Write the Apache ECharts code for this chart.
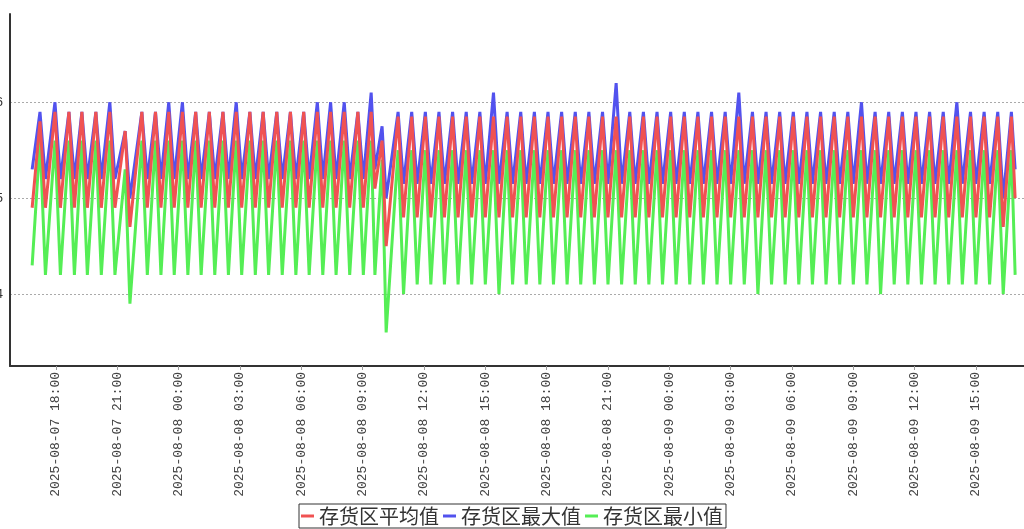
<!DOCTYPE html>
<html>
<head>
<meta charset="utf-8">
<script src="https://cdn.jsdelivr.net/npm/echarts@6/dist/echarts.min.js"></script>
<style>html,body{margin:0;padding:0;background:#fff;}#chart{width:1024px;height:529px;}</style>
</head>
<body>
<div id="chart"></div>
<script>
// ---- data (times in minutes after 2025-08-07 00:00) ----
const seriesNames = ['存货区平均值', '存货区最大值', '存货区最小值'];
const tickLabels = ['2025-08-07 18:00','2025-08-07 21:00','2025-08-08 00:00','2025-08-08 03:00','2025-08-08 06:00','2025-08-08 09:00','2025-08-08 12:00','2025-08-08 15:00','2025-08-08 18:00','2025-08-08 21:00','2025-08-09 00:00','2025-08-09 03:00','2025-08-09 06:00','2025-08-09 09:00','2025-08-09 12:00','2025-08-09 15:00'];
const yTickValues = [4, 5, 6];

const troughMinutes = [1010,1049,1093,1134,1172,1213,1253,1297,1348,1388,1427,1467,1506,1546,1586,1625,1665,1704,1744,1784,1823,1863,1902,1942,1982,2016,2049,
2100,2140,2180,2220,2260,2300,2340,2380,2420,2460,2500,2540,2580,2620,2660,2700,2740,2780,2820,2860,2900,2940,2980,3020,3060,3100,3140,3180,3220,3260,3300,3340,3380,3420,3460,3500,3540,3580,3620,3660,3700,3740,3780,3820,3860];
const peakMinutes = [1033,1077,1118,1156,1197,1238,1283,1332,1372,1411,1451,1490,1530,1570,1609,1649,1688,1728,1768,1807,1847,1886,1926,1966,2005,2037,2084,
2124,2164,2204,2244,2284,2324,2364,2404,2444,2484,2524,2564,2604,2644,2684,2724,2764,2804,2844,2884,2924,2964,3004,3044,3084,3124,3164,3204,3244,3284,3324,3364,3404,3444,3484,3524,3564,3604,3644,3684,3724,3764,3804,3844,3884];
const endMinute = 3895;

const avgTroughs = [4.9,4.9,4.9,4.9,4.9,4.9,4.9,4.7,4.9,4.9,4.9,4.9,4.9,4.9,4.9,4.9,4.9,4.9,4.9,4.9,4.9,4.9,4.9,4.9,4.9,5.1,4.5,
4.8,4.8,4.8,4.8,4.8,4.8,4.8,4.8,4.8,4.8,4.8,4.8,4.8,4.8,4.8,4.8,4.8,4.8,4.8,4.8,4.8,4.8,4.8,4.8,4.8,4.8,4.8,4.8,4.8,4.8,4.8,4.8,4.8,4.8,4.8,4.8,4.8,4.8,4.8,4.8,4.8,4.8,4.8,4.8,4.7,4.8];
const avgPeaks = [5.8,5.9,5.9,5.9,5.9,5.9,5.7,5.9,5.9,5.9,5.9,5.9,5.9,5.9,5.9,5.9,5.9,5.9,5.9,5.9,5.9,5.9,5.9,5.9,5.9,5.6,5.85,
5.85,5.85,5.85,5.85,5.85,5.85,5.85,5.85,5.85,5.85,5.85,5.85,5.85,5.85,5.85,5.85,5.85,5.85,5.85,5.85,5.85,5.85,5.85,5.85,5.85,5.85,5.85,5.85,5.85,5.85,5.85,5.85,5.85,5.85,5.85,5.85,5.85,5.85,5.85,5.85,5.85,5.85,5.85,5.85,5.85,5.85];
const avgEnd = 5.0;

const maxTroughs = [5.3,5.2,5.2,5.2,5.2,5.2,5.2,5.0,5.2,5.2,5.2,5.2,5.2,5.2,5.2,5.2,5.2,5.2,5.2,5.2,5.2,5.2,5.2,5.2,5.2,5.3,5.0,
5.15,5.15,5.15,5.15,5.15,5.15,5.15,5.15,5.15,5.15,5.15,5.15,5.15,5.15,5.15,5.15,5.15,5.15,5.15,5.15,5.15,5.15,5.15,5.15,5.15,5.15,5.15,5.15,5.15,5.15,5.15,5.15,5.15,5.15,5.15,5.15,5.15,5.15,5.15,5.15,5.15,5.15,5.15,5.15,5.0,5.15];
const maxPeaks = [5.9,6.0,5.9,5.9,5.9,6.0,5.7,5.9,5.9,6.0,6.0,5.9,5.9,5.9,6.0,5.9,5.9,5.9,5.9,5.9,6.0,6.0,6.0,5.9,6.1,5.75,5.9,
5.9,5.9,5.9,5.9,5.9,5.9,6.1,5.9,5.9,5.9,5.9,5.9,5.9,5.9,5.9,6.2,5.9,5.9,5.9,5.9,5.9,5.9,5.9,5.9,6.1,5.9,5.9,5.9,5.9,5.9,5.9,5.9,5.9,6.0,5.9,5.9,5.9,5.9,5.9,5.9,6.0,5.9,5.9,5.9,5.9];
const maxEnd = 5.3;

const minTroughs = [4.3,4.2,4.2,4.2,4.2,4.2,4.2,3.9,4.2,4.2,4.2,4.2,4.2,4.2,4.2,4.2,4.2,4.2,4.2,4.2,4.2,4.2,4.2,4.2,4.2,4.2,3.6,
4.0,4.1,4.1,4.1,4.1,4.1,4.1,4.0,4.1,4.1,4.1,4.1,4.1,4.1,4.1,4.1,4.1,4.1,4.1,4.1,4.1,4.1,4.1,4.1,4.1,4.1,4.0,4.1,4.1,4.1,4.1,4.1,4.1,4.1,4.1,4.0,4.1,4.1,4.1,4.1,4.1,4.1,4.1,4.1,4.0,4.1];
const minPeaks = [5.6,5.6,5.6,5.6,5.6,5.6,5.3,5.6,5.6,5.6,5.6,5.6,5.6,5.6,5.6,5.6,5.6,5.6,5.6,5.6,5.6,5.6,5.6,5.6,5.6,5.4,5.5,
5.5,5.5,5.5,5.5,5.5,5.5,5.5,5.5,5.5,5.5,5.5,5.5,5.5,5.5,5.5,5.5,5.5,5.5,5.5,5.5,5.5,5.5,5.5,5.5,5.5,5.5,5.5,5.5,5.5,5.5,5.5,5.5,5.5,5.5,5.5,5.5,5.5,5.5,5.5,5.5,5.5,5.5,5.5,5.5,5.5,5.5];
const minEnd = 4.2;

// ---- build ----
const base = new Date(2025, 7, 7, 0, 0, 0).getTime();
const toTime = m => base + m * 60000;
function buildSeries(troughs, peaks, endVal) {
  const out = [];
  for (let i = 0; i < peakMinutes.length; i++) {
    out.push([toTime(troughMinutes[i]), troughs[i]]);
    out.push([toTime(peakMinutes[i]), peaks[i]]);
  }
  out.push([toTime(endMinute), endVal]);
  return out;
}
function parseLabel(s) {
  const [d, t] = s.split(' ');
  const [Y, M, D] = d.split('-').map(Number);
  const [h, mi] = t.split(':').map(Number);
  return new Date(Y, M - 1, D, h, mi).getTime();
}
const tickValues = tickLabels.map(parseLabel);
const labelMap = {};
tickValues.forEach((v, i) => { labelMap[v] = tickLabels[i]; });

const chart = echarts.init(document.getElementById('chart'), null, { renderer: 'canvas' });
const colors = ['#f05252', '#5252ee', '#55ee55'];
chart.setOption({
  animation: false,
  backgroundColor: '#ffffff',
  color: colors,
  grid: { left: 10, right: 0, top: 14, bottom: 163, containLabel: false, outerBoundsMode: 'none' },
  legend: {
    data: seriesNames,
    bottom: 1,
    left: 'center',
    icon: 'rect',
    itemWidth: 13,
    itemHeight: 3,
    itemGap: 4,
    padding: [2, 3, 2, 2],
    borderColor: '#333',
    borderWidth: 1,
    textStyle: { fontSize: 20, color: '#333', fontFamily: '"Noto Sans CJK SC", sans-serif' }
  },
  xAxis: {
    type: 'value',
    min: toTime(945),
    max: toTime(3921),
    axisLine: { show: true, onZero: false, lineStyle: { color: '#333', width: 2 } },
    axisTick: { show: true, customValues: tickValues, length: 4, lineStyle: { color: '#999' } },
    axisLabel: {
      customValues: tickValues,
      rotate: 90,
      margin: 6,
      fontSize: 13,
      color: '#444',
      fontFamily: '"Liberation Mono", monospace',
      formatter: v => labelMap[v] || ''
    },
    splitLine: { show: false }
  },
  yAxis: {
    type: 'value',
    min: 3.25,
    max: 6.92,
    axisLine: { show: true, lineStyle: { color: '#333', width: 2 } },
    axisTick: { show: false, customValues: yTickValues },
    axisLabel: { customValues: yTickValues, fontSize: 13, color: '#333', margin: 7 },
    splitLine: { show: true, lineStyle: { color: '#aaa', type: [2, 2], width: 1 } }
  },
  series: [
    { name: seriesNames[0], type: 'line', z: 5, data: buildSeries(avgTroughs, avgPeaks, avgEnd), showSymbol: false, lineStyle: { width: 3, color: colors[0] }, itemStyle: { color: colors[0] } },
    { name: seriesNames[1], type: 'line', z: 4, data: buildSeries(maxTroughs, maxPeaks, maxEnd), showSymbol: false, lineStyle: { width: 3, color: colors[1] }, itemStyle: { color: colors[1] } },
    { name: seriesNames[2], type: 'line', z: 3, data: buildSeries(minTroughs, minPeaks, minEnd), showSymbol: false, lineStyle: { width: 3, color: colors[2] }, itemStyle: { color: colors[2] } }
  ]
});
</script>
</body>
</html>
